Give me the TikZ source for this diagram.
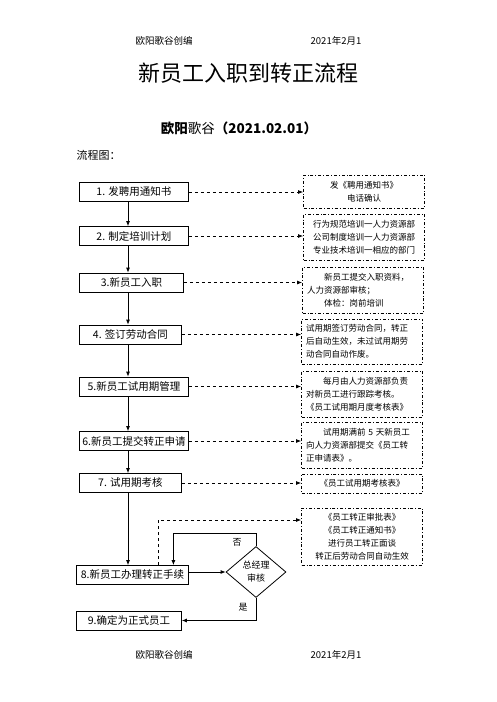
\documentclass[tikz,border=0pt]{standalone}
\usepackage{fontspec}
\setmainfont{Noto Sans CJK SC}
\usetikzlibrary{shapes.geometric,arrows.meta}

\begin{document}
\begin{tikzpicture}[x=1pt, y=-1pt, >={Latex[length=5pt,width=4pt]},
    stepbox/.style={rectangle, draw, thick, anchor=west, minimum height=19pt, inner sep=2pt, font=\fontsize{10.5}{12}\selectfont},
    note/.style={rectangle, draw, thick, dash dot, minimum width=121pt, text width=112pt, inner sep=4pt, font=\fontsize{8.5}{13}\selectfont},
    check/.style={diamond, draw, thick, minimum width=60pt, minimum height=51pt, inner sep=0pt, align=center, font=\fontsize{9}{13}\selectfont},
    link/.style={->, thick, dashed}]

\path[use as bounding box, fill=white] (0,0) rectangle (496,702);

% Header
\node (hleft) at (164,41) {\fontsize{9.5}{11}\selectfont 欧阳歌谷创编};
\node (hright) at (336,41) {\fontsize{9.5}{11}\selectfont 2021年2月1};
\node (title) at (248,73) {\fontsize{22}{26}\selectfont 新员工入职到转正流程};
\node (author) at (239,128) {\fontsize{13.5}{16}\selectfont\bfseries 欧阳\mdseries 歌谷\bfseries（2021.02.01）};
\node[anchor=west] (chart) at (73,155) {\fontsize{11}{13}\selectfont 流程图：};

% Main steps
\coordinate (trunk) at (128,0);
\node[stepbox, minimum width=109pt] (b1) at (79,192) {1. 发聘用通知书};
\node[stepbox, minimum width=109pt] (b2) at (79,236) {2. 制定培训计划};
\node[stepbox, minimum width=104pt] (b3) at (79,282.5) {3.新员工入职};
\node[stepbox, minimum width=102pt] (b4) at (79,334.5) {4. 签订劳动合同};
\node[stepbox, minimum width=109pt] (b5) at (79,386.5) {5.新员工试用期管理};
\node[stepbox, minimum width=109pt] (b6) at (79,441) {6.新员工提交转正申请};
\node[stepbox, minimum width=102pt] (b7) at (79,483) {7. 试用期考核};
\node[stepbox, minimum width=112pt] (b8) at (76,575) {8.新员工办理转正手续};
\node[stepbox, minimum width=105pt] (b9) at (76,620.5) {9.确定为正式员工};

% Review
\node[check] (gm) at (256,572) {总经理\\审核};
\node[font=\fontsize{9}{11}\selectfont] (no) at (237,542) {否};
\node[font=\fontsize{9}{11}\selectfont] (yes) at (243,607) {是};

% Notes
\node[note, align=center, minimum height=33pt] (r1) at (364,191.5) {发《聘用通知书》\\电话确认};
\node[note, align=center, minimum height=46pt] (r2) at (364,237) {行为规范培训一人力资源部\\公司制度培训一人力资源部\\专业技术培训一相应的部门};
\node[note, align=left, minimum height=46pt] (r3) at (363,290) {\hspace*{2em}新员工提交入职资料，\\人力资源部审核；\\\hspace*{2em}体检：岗前培训};
\node[note, align=left, minimum height=45pt] (r4) at (362,341.5) {试用期签订劳动合同，转正\\后自动生效，未过试用期劳\\动合同自动作废。};
\node[note, align=left, minimum height=46pt] (r5) at (362,394) {\hspace*{2em}每月由人力资源部负责\\对新员工进行跟踪考核。\\《员工试用期月度考核表》};
\node[note, align=left, minimum height=46pt] (r6) at (362,445) {\hspace*{2em}试用期满前 5 天新员工\\向人力资源部提交《员工转\\正申请表》。};
\node[note, align=center, minimum height=19pt] (r7) at (362,483.5) {《员工试用期考核表》};
\node[note, align=center, minimum height=57pt] (r8) at (362,536.5) {《员工转正审批表》\\《员工转正通知书》\\进行员工转正面谈\\转正后劳动合同自动生效};

% Footer
\node (fleft) at (164,655) {\fontsize{9.5}{11}\selectfont 欧阳歌谷创编};
\node (fright) at (336,655) {\fontsize{9.5}{11}\selectfont 2021年2月1};

% Connections
\draw[->, thick] (b1.south -| trunk) -- (b2.north -| trunk);
\draw[->, thick] (b2.south -| trunk) -- (b3.north -| trunk);
\draw[->, thick] (b3.south -| trunk) -- (b4.north -| trunk);
\draw[->, thick] (b4.south -| trunk) -- (b5.north -| trunk);
\draw[->, thick] (b5.south -| trunk) -- (b6.north -| trunk);
\draw[->, thick] (b6.south -| trunk) -- (b7.north -| trunk);
\draw[->, thick] (b7.south -| trunk) -- (b8.north -| trunk);
\draw[->, thick] (b8.east |- gm) -- (gm.west);
\draw[->, thick] (gm.north) -- ++(0,-13) -| ([xshift=41pt]b8.north);
\draw[->, thick] (gm.south) |- (b9.east);

% Note links
\draw[link] (b1.east) -- (b1.east -| r1.west);
\draw[link] (b2.east) -- (b2.east -| r2.west);
\draw[link] (b3.east) -- (b3.east -| r3.west);
\draw[link] (b4.east) -- (b4.east -| r4.west);
\draw[link] (b5.east) -- (b5.east -| r5.west);
\draw[link] (b6.east) -- (b6.east -| r6.west);
\draw[link] (b7.east) -- (b7.east -| r7.west);
\draw[link] ([xshift=26pt]b8.north) |- ([yshift=16.5pt]r8.west);

\end{tikzpicture}
\end{document}
